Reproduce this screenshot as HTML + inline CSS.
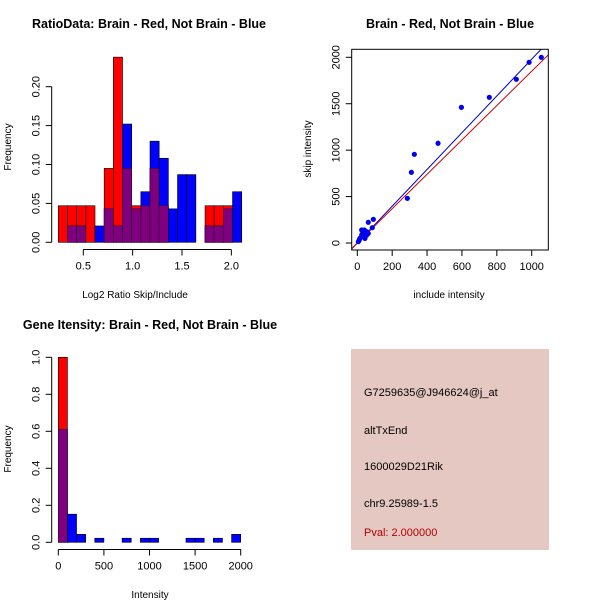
<!DOCTYPE html>
<html><head><meta charset="utf-8"><style>
body{margin:0;background:#fff;}
svg text{font-family:"Liberation Sans",sans-serif;font-size:11px;fill:#000;}
.t{font-weight:bold;font-size:12.5px;}
</style></head><body>
<svg id="s" width="600" height="600" xmlns="http://www.w3.org/2000/svg">
<rect x="351" y="349" width="198" height="201" fill="#e5c8c2"/>
<text x="364" y="396">G7259635@J946624@j_at</text>
<text x="364" y="434">altTxEnd</text>
<text x="364" y="470">1600029D21Rik</text>
<text x="364" y="507">chr9.25989-1.5</text>
<text x="364" y="536" fill="#b00000" style="fill:#b00000">Pval: 2.000000</text>
</svg>
<script>
// Ratio histogram
const ratioBinStart=0.247, ratioBinW=0.0929;
const ratioRed=[.047,.047,.047,.047,0,.095,.238,.095,.047,.047,.095,.047,0,0,0,0,.047,.047,.047,0];
const ratioBlue=[0,.021,.021,0,.021,.043,.021,.152,.043,.065,.13,.108,.043,.087,.087,0,.021,.021,.043,.065];
const ratioXTicks=[0.5,1.0,1.5,2.0];
const ratioYTicks=[0,0.05,0.10,0.15,0.20];
// Scatter
const scX=[1055,985,912,757,597,463,327,310,287,92,63,86,6,15,25,34,44,54,34,25,54,63,44,11,40,30,50];
const scY=[2000,1946,1763,1569,1461,1074,955,761,481,255,223,165,14,50,86,122,104,122,68,140,86,104,50,32,140,100,80];
const scBlueSlope=1.98, scRedSlope=1.85;
const scXTicks=[0,200,400,600,800,1000];
const scYTicks=[0,500,1000,1500,2000];
// Intensity histogram
const intBinW=100;
const intRed=[1.0,0,0,0,0,0,0,0,0,0,0,0,0,0,0,0,0,0,0,0];
const intBlue=[.61,.152,.043,0,.022,0,0,.022,0,.022,.022,0,0,0,.022,.022,0,.022,0,.043];
const intXTicks=[0,500,1000,1500,2000];
const intYTicks=[0,0.2,0.4,0.6,0.8,1.0];

const NS="http://www.w3.org/2000/svg", svg=document.getElementById('s');
function mk(tag,a,txt){const e=document.createElementNS(NS,tag);for(const k in a)e.setAttribute(k,a[k]);if(txt!==undefined)e.textContent=txt;svg.appendChild(e);return e;}
function fmt(v,d){return v.toFixed(d);}

function hist(xs,ys,starts,w,red,blue,xt,yt,yd,xd,axY,axX,title,titleX,xlab,name){
  for(let i=0;i<red.length;i++){
    const x0=xs(starts+i*w),x1=xs(starts+(i+1)*w);
    const r=red[i],b=blue[i],m=Math.min(r,b);
    if(r>0){const e=mk('rect',{x:x0,y:ys(r),width:x1-x0,height:ys(0)-ys(r),fill:'#ff0000',stroke:'#000','stroke-width':0.6});
      
      }
    if(b>0){const e=mk('rect',{x:x0,y:ys(b),width:x1-x0,height:ys(0)-ys(b),fill:'#0000ff',stroke:'#000','stroke-width':0.6});
      
      }
    if(m>0){const e=mk('rect',{x:x0,y:ys(m),width:x1-x0,height:ys(0)-ys(m),fill:'#7f007f',stroke:'#3a003a','stroke-width':0.6});
      
      }
  }
  let e=mk('line',{x1:xs(xt[0]),x2:xs(xt[xt.length-1]),y1:axY,y2:axY,stroke:'#000'});
  
  
  xt.forEach(v=>{mk('line',{x1:xs(v),x2:xs(v),y1:axY,y2:axY+6,stroke:'#000'});
    const t=mk('text',{x:xs(v),y:axY+20,'text-anchor':'middle'},fmt(v,xd));
    
    });
  e=mk('line',{x1:axX,x2:axX,y1:ys(yt[0]),y2:ys(yt[yt.length-1]),stroke:'#000'});
  
  
  yt.forEach(v=>{mk('line',{x1:axX-6,x2:axX,y1:ys(v),y2:ys(v),stroke:'#000'});
    const t=mk('text',{x:axX-12,y:ys(v),'text-anchor':'middle',transform:`rotate(-90 ${axX-12} ${ys(v)})`},fmt(v,yd));
    
    });
  let t=mk('text',{x:titleX,y:0,'text-anchor':'middle',class:'t'},title);
  
  
  return t;
}
// top-left
const rx=v=>83.3+(v-0.5)*98.7, ry=v=>242.3-v*778;
let tt=hist(rx,ry,ratioBinStart,ratioBinW,ratioRed,ratioBlue,ratioXTicks,ratioYTicks,2,1,249.5,51.7,'RatioData: Brain - Red, Not Brain - Blue',149,'','ratio-hist');
tt.setAttribute('y',28);
let l=mk('text',{x:135,y:298,'text-anchor':'middle',style:'font-size:10px'},'Log2 Ratio Skip/Include');


l=mk('text',{x:11,y:147,'text-anchor':'middle',transform:'rotate(-90 11 147)',style:'font-size:10px'},'Frequency');


// bottom-left
const ix=v=>58.3+v*0.0912, iy=v=>542.3-v*185;
tt=hist(ix,iy,0,intBinW,intRed,intBlue,intXTicks,intYTicks,1,0,549.5,51.7,'Gene Itensity: Brain - Red, Not Brain - Blue',150,'','intensity-hist');
tt.setAttribute('y',329);
l=mk('text',{x:150,y:598,'text-anchor':'middle',style:'font-size:10px'},'Intensity');


l=mk('text',{x:11,y:449,'text-anchor':'middle',transform:'rotate(-90 11 449)',style:'font-size:10px'},'Frequency');


// scatter
const sx=v=>357.3+v*0.1744, sy=v=>243-v*0.09285;
const L=351.7,R=548.3,T=49.3,B=250;
mk('defs',{}).innerHTML='<clipPath id="c"><rect x="351.7" y="49.3" width="196.6" height="200.7"/></clipPath>';
[[scBlueSlope,'#0000cc','blue-fit-line'],[scRedSlope,'#cc0000','red-fit-line']].forEach(([s,c,n])=>{
  const e=mk('line',{x1:sx(-50),y1:sy(-50*s),x2:sx(1200),y2:sy(1200*s),stroke:c,'stroke-width':1,'clip-path':'url(#c)'});
  
  
});
scX.forEach((v,i)=>{const e=mk('circle',{cx:sx(v),cy:sy(scY[i]),r:2.6,fill:'#0000ee'});
  
  });
let f=mk('rect',{x:L,y:T,width:R-L,height:B-T,fill:'none',stroke:'#000'});


scXTicks.forEach(v=>{mk('line',{x1:sx(v),x2:sx(v),y1:B,y2:B+6,stroke:'#000'});
  const t=mk('text',{x:sx(v),y:B+20,'text-anchor':'middle'},String(v));
  
  });
scYTicks.forEach(v=>{mk('line',{x1:L-6,x2:L,y1:sy(v),y2:sy(v),stroke:'#000'});
  const t=mk('text',{x:L-12,y:sy(v),'text-anchor':'middle',transform:`rotate(-90 ${L-12} ${sy(v)})`},String(v));
  
  });
l=mk('text',{x:450,y:28,'text-anchor':'middle',class:'t'},'Brain - Red, Not Brain - Blue');


l=mk('text',{x:449,y:298,'text-anchor':'middle',style:'font-size:10px'},'include intensity');


l=mk('text',{x:311,y:149,'text-anchor':'middle',transform:'rotate(-90 311 149)',style:'font-size:10px'},'skip intensity');


</script>
</body></html>
